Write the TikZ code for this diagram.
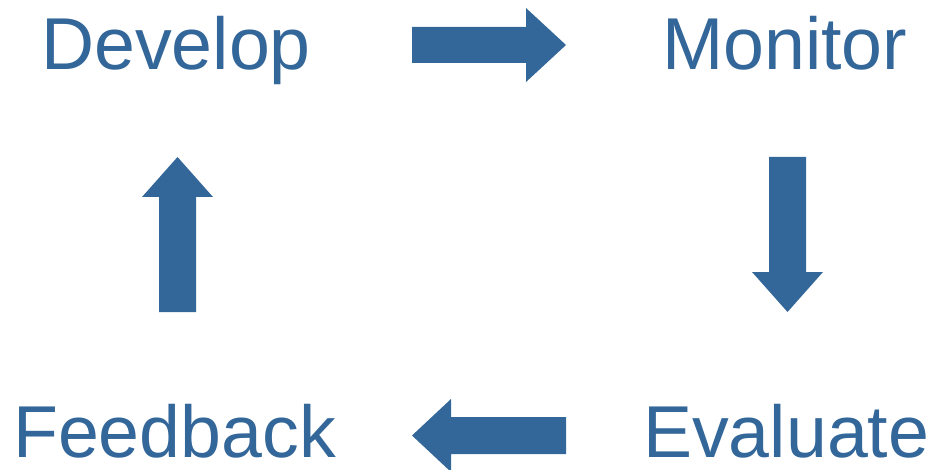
\documentclass[tikz,border=0pt]{standalone}
\usepackage{fontspec}
\setmainfont{Liberation Sans}
\definecolor{cycleblue}{RGB}{51,102,153}
\begin{document}
\begin{tikzpicture}[x=1pt,y=-1pt,
  lbl/.style={anchor=base west,inner sep=0pt,text depth=0pt,text=cycleblue,font=\fontsize{73.5}{86}\selectfont},
  blockarrow/.style={fill=cycleblue,draw=none}]
\useasboundingbox (0,0) rectangle (936,470);
\node[lbl] (develop) at (41,70) {Develop};
\node[lbl] (monitor) at (662,70) {Monitor};
\node[lbl] (feedback) at (13,457) {Feedback};
\node[lbl] (evaluate) at (643,457) {Evaluate};
% right arrow
\fill[blockarrow] (412,27) -- (526,27) -- (526,8) -- (566,45) -- (526,82) -- (526,63) -- (412,63) -- cycle;
% down arrow
\fill[blockarrow] (769,157) -- (806,157) -- (806,272) -- (823,272) -- (787.5,312) -- (752,272) -- (769,272) -- cycle;
% left arrow
\fill[blockarrow] (566,417) -- (451,417) -- (451,399) -- (412,435.5) -- (451,472) -- (451,454) -- (566,454) -- cycle;
% up arrow
\fill[blockarrow] (159,312) -- (159,197) -- (142,197) -- (177.5,157) -- (213,197) -- (196,197) -- (196,312) -- cycle;
\end{tikzpicture}
\end{document}
